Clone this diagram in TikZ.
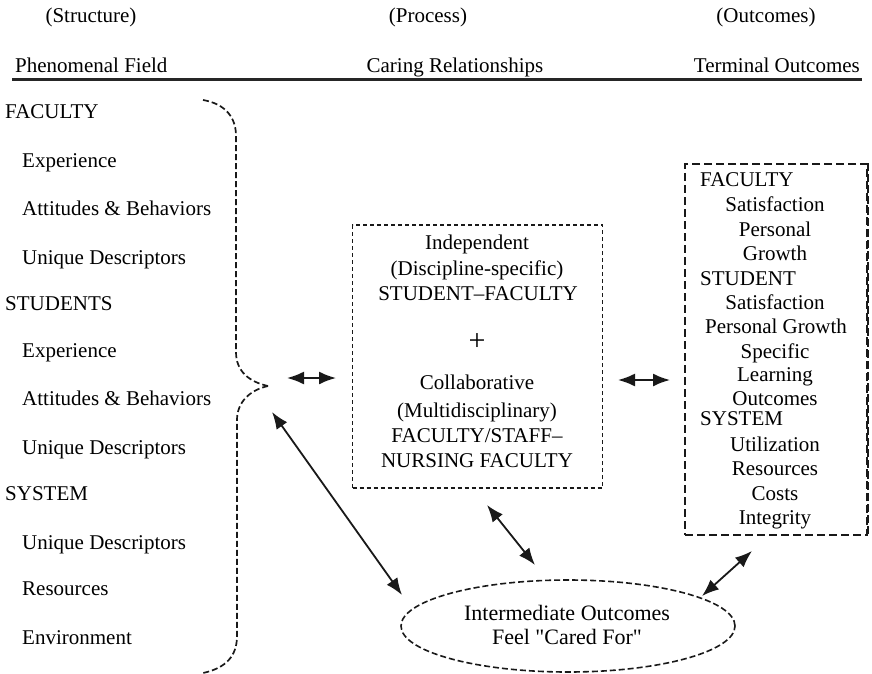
\documentclass[tikz,border=0pt]{standalone}
\usepackage{fontspec}
\setmainfont{Liberation Serif}[Ligatures=TeXOff]
\usetikzlibrary{shapes.geometric,arrows.meta}

\begin{document}
\begin{tikzpicture}[x=1pt,y=-1pt,
  txt/.style={inner sep=0pt,font=\fontsize{21}{25}\selectfont,text=black},
  lft/.style={txt,anchor=base west},
  ctr/.style={txt,anchor=base},
  head/.style={inner sep=0pt,anchor=base,font=\fontsize{21}{25}\selectfont,text=black},
  dbl/.style={{Latex[length=17pt,width=13pt]}-{Latex[length=17pt,width=13pt]},line width=1.8pt,black!90},
  dashbox/.style={draw=black!90,line width=1.6pt,inner sep=0pt},
]
\useasboundingbox (0,0) rectangle (872,674);

% column headings
\node[head] (hstruct) at (91,23) {(Structure)};
\node[head] (hproc)   at (428,23) {(Process)};
\node[head] (hout)    at (766,23) {(Outcomes)};
\node[head,anchor=base west] (hfield) at (15,73) {Phenomenal Field};
\node[head] (hcare) at (455,73) {Caring Relationships};
\node[head,anchor=base east] (hterm) at (860,73) {Terminal Outcomes};
\draw[line width=2.2pt,black!85] (12,79.5) -- (862,79.5);

% structure list
\node[lft] (f)   at (5,119)  {FACULTY};
\node[lft] (f1)  at (22,167) {Experience};
\node[lft] (f2)  at (22,215) {Attitudes \& Behaviors};
\node[lft] (f3)  at (22,264) {Unique Descriptors};
\node[lft] (s)   at (5,310)  {STUDENTS};
\node[lft] (s1)  at (22,357) {Experience};
\node[lft] (s2)  at (22,405) {Attitudes \& Behaviors};
\node[lft] (s3)  at (22,454) {Unique Descriptors};
\node[lft] (y)   at (5,500)  {SYSTEM};
\node[lft] (y1)  at (22,549) {Unique Descriptors};
\node[lft] (y2)  at (22,595) {Resources};
\node[lft] (y3)  at (22,644) {Environment};

% dashed brace grouping the structure list
\coordinate (btip) at (268,386);
\draw[dash pattern=on 6pt off 3pt,line width=1.7pt,black!90]
  (203,100) .. controls (226,104) and (236,118) .. (236,136) -- (236,352)
  .. controls (236,372) and (250,382) .. (btip);
\draw[dash pattern=on 6pt off 3pt,line width=1.7pt,black!90]
  (btip) .. controls (250,390) and (237,402) .. (237,420) -- (237,636)
  .. controls (237,656) and (226,668) .. (203,673);

% process box
\node[dashbox,dash pattern=on 4pt off 3pt,minimum width=250pt,minimum height=263pt] (proc) at (477.5,356.5) {};
\node[ctr] (p1) at (477,249) {Independent};
\node[ctr] (p2) at (477,275) {(Discipline-specific)};
\node[ctr] (p3) at (478,300) {STUDENT–FACULTY};
\node[ctr,font=\fontsize{30}{30}\selectfont] (p4) at (477,350) {+};
\node[ctr] (p5) at (477,389) {Collaborative};
\node[ctr] (p6) at (477,417) {(Multidisciplinary)};
\node[ctr] (p7) at (477,442) {FACULTY/STAFF–};
\node[ctr] (p8) at (477,467) {NURSING FACULTY};

% terminal outcomes box
\node[dashbox,dash pattern=on 8pt off 4pt,minimum width=182pt,minimum height=371pt] (term) at (776,349.5) {};
\draw[line width=2.6pt,black!90,dash pattern=on 8pt off 3pt] (term.north east) -- (term.south east);
\node[lft] (t1)  at (700,186) {FACULTY};
\node[ctr] (t2)  at (775,211) {Satisfaction};
\node[ctr] (t3)  at (775,236) {Personal};
\node[ctr] (t4)  at (775,260) {Growth};
\node[lft] (t5)  at (700,285) {STUDENT};
\node[ctr] (t6)  at (775,309) {Satisfaction};
\node[ctr] (t7)  at (776,333) {Personal Growth};
\node[ctr] (t8)  at (775,358) {Specific};
\node[ctr] (t9)  at (775,381) {Learning};
\node[ctr] (t10) at (775,405) {Outcomes};
\node[lft] (t11) at (700,425) {SYSTEM};
\node[ctr] (t12) at (775,451) {Utilization};
\node[ctr] (t13) at (775,475) {Resources};
\node[ctr] (t14) at (775,500) {Costs};
\node[ctr] (t15) at (775,524) {Integrity};

% intermediate outcomes
\node[draw=black!90,dash pattern=on 6pt off 3pt,line width=1.6pt,ellipse,
      minimum width=334pt,minimum height=92pt,inner sep=0pt] (inter) at (568,626) {};
\node[ctr,font=\fontsize{22}{26}\selectfont] (i1) at (567,620) {Intermediate Outcomes};
\node[ctr,font=\fontsize{22}{26}\selectfont] (i2) at (567,644) {Feel "Cared For"};

% connector end points
\coordinate (a1) at (287,378);
\coordinate (a2) at (336,378);
\coordinate (b1) at (618,380);
\coordinate (b2) at (670,380);
\coordinate (c1) at (272,412);
\coordinate (c2) at (402,595);
\coordinate (d1) at (487,505);
\coordinate (d2) at (535,565);
\coordinate (e1) at (752,551);
\coordinate (e2) at (702,596);

\draw[dbl] (a1) -- (a2);
\draw[dbl] (b1) -- (b2);
\draw[dbl] (c1) -- (c2);
\draw[dbl] (d1) -- (d2);
\draw[dbl] (e1) -- (e2);
\end{tikzpicture}
\end{document}
